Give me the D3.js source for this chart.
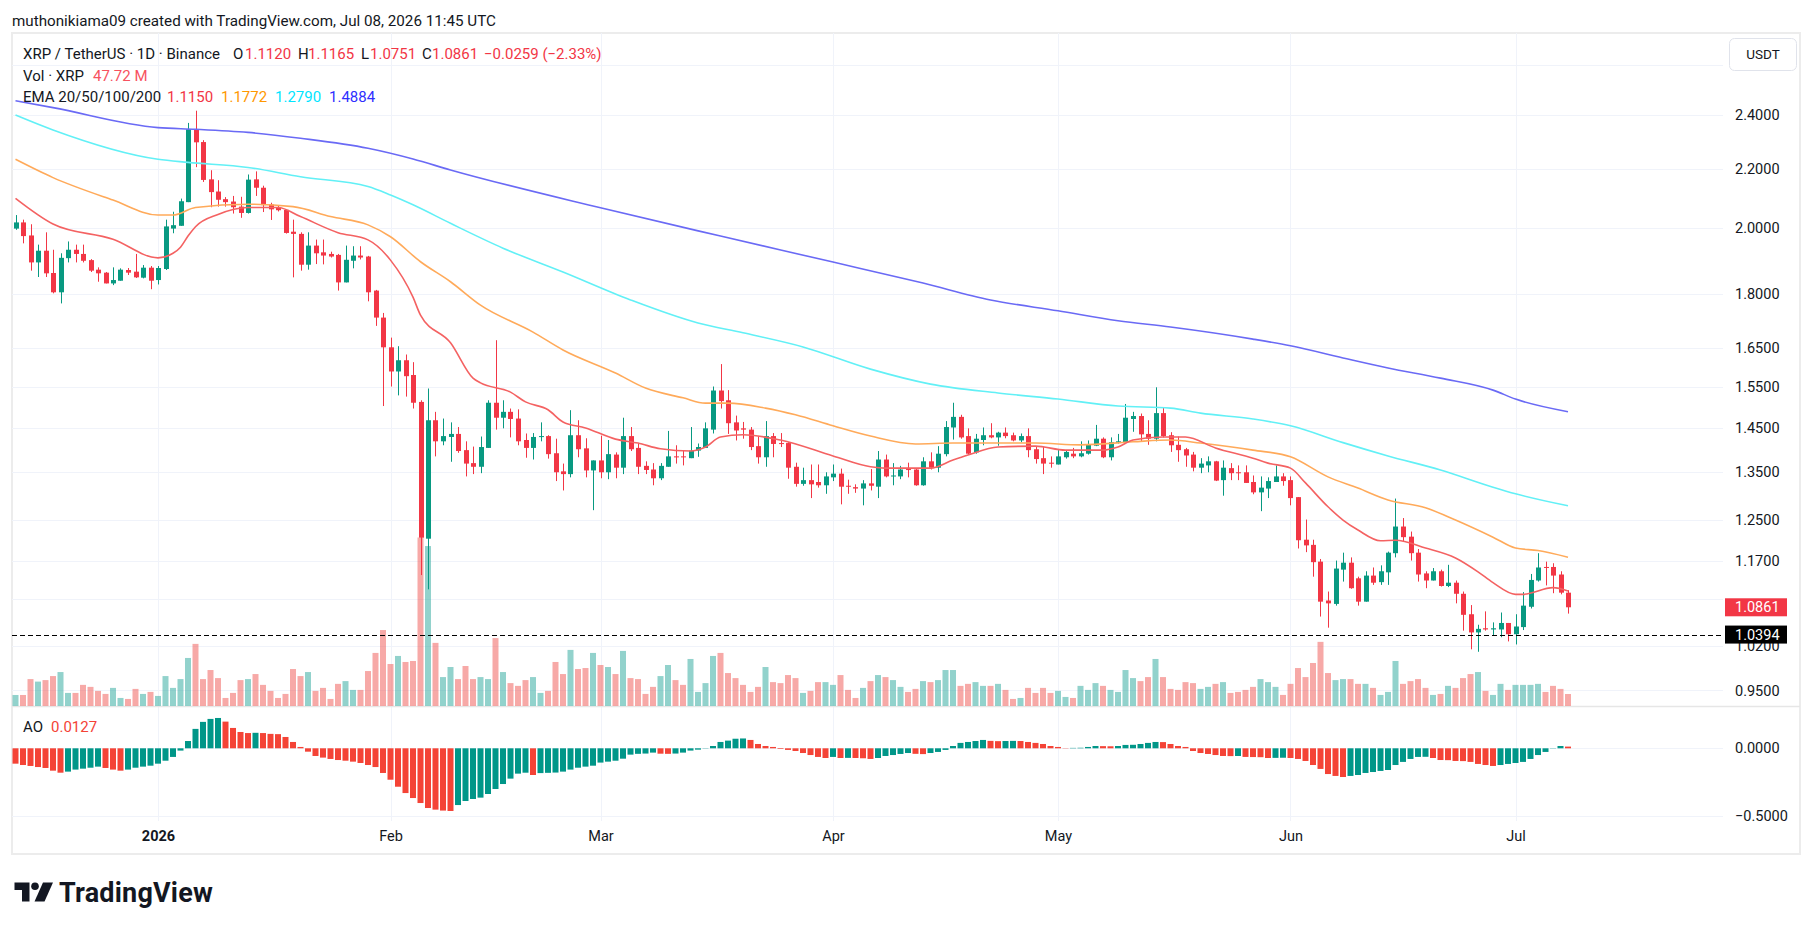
<!DOCTYPE html>
<html>
<head>
<meta charset="utf-8">
<script src="https://cdn.jsdelivr.net/npm/d3@7"></script>
<style>
  html, body { margin: 0; padding: 0; background: #fff; }
  svg { display: block; font-family: Roboto, "Noto Sans", sans-serif; }
</style>
</head>
<body>
<svg id="chart" width="1814" height="930"></svg>
<script>
// ---- data ----
const firstDay = "2025-12-13";

// daily candles [open, high, low, close]
const ohlc = [
  // Dec 13 - Dec 31
  [1.999,2.043,1.995,2.019],[2.019,2.028,1.952,1.975],[1.977,2.013,1.868,1.893],[1.893,1.948,1.849,1.929],[1.929,1.987,1.849,1.860],
  [1.861,1.932,1.801,1.804],[1.804,1.921,1.772,1.907],[1.906,1.958,1.893,1.932],[1.932,1.948,1.893,1.919],[1.919,1.948,1.893,1.898],
  [1.900,1.903,1.864,1.868],[1.871,1.878,1.835,1.860],[1.862,1.864,1.830,1.830],[1.830,1.878,1.825,1.840],[1.838,1.875,1.838,1.871],
  [1.870,1.876,1.855,1.862],[1.865,1.919,1.846,1.848],[1.847,1.885,1.845,1.877],[1.877,1.882,1.813,1.838],
  // Jan
  [1.840,1.882,1.827,1.876],[1.873,2.028,1.870,2.006],[1.999,2.054,1.984,2.010],[2.008,2.098,2.008,2.089],[2.086,2.370,2.086,2.346],
  [2.346,2.417,2.207,2.297],[2.298,2.305,2.155,2.162],[2.164,2.196,2.069,2.120],[2.122,2.161,2.071,2.094],[2.096,2.103,2.071,2.086],
  [2.088,2.107,2.048,2.069],[2.071,2.104,2.034,2.050],[2.050,2.181,2.048,2.163],[2.164,2.192,2.107,2.135],[2.135,2.142,2.053,2.076],
  [2.078,2.084,2.027,2.062],[2.069,2.073,2.055,2.059],[2.060,2.062,1.983,1.985],[1.989,2.028,1.848,1.982],[1.982,1.987,1.868,1.886],
  [1.886,1.987,1.871,1.945],[1.945,1.964,1.888,1.921],[1.924,1.964,1.887,1.914],[1.919,1.926,1.908,1.911],[1.916,1.919,1.809,1.833],
  [1.833,1.945,1.833,1.901],[1.898,1.943,1.875,1.914],[1.914,1.943,1.902,1.908],[1.911,1.913,1.778,1.804],[1.809,1.811,1.709,1.732],
  [1.732,1.745,1.502,1.651],
  // Feb
  [1.651,1.677,1.550,1.588],[1.588,1.654,1.528,1.617],[1.617,1.632,1.525,1.576],[1.579,1.612,1.496,1.510],[1.512,1.516,1.144,1.215],
  [1.213,1.545,1.118,1.468],[1.468,1.488,1.385,1.419],[1.419,1.472,1.410,1.431],[1.429,1.463,1.373,1.436],[1.436,1.452,1.393,1.397],
  [1.399,1.419,1.341,1.369],[1.370,1.407,1.346,1.362],[1.362,1.430,1.348,1.406],[1.404,1.516,1.404,1.510],[1.510,1.670,1.446,1.474],
  [1.474,1.516,1.449,1.488],[1.488,1.496,1.428,1.471],[1.472,1.494,1.410,1.419],[1.422,1.437,1.382,1.404],[1.404,1.438,1.378,1.429],
  [1.429,1.463,1.419,1.431],[1.431,1.433,1.380,1.390],[1.392,1.425,1.331,1.350],[1.352,1.369,1.311,1.346],[1.346,1.492,1.339,1.433],
  [1.433,1.468,1.383,1.401],[1.403,1.426,1.339,1.354],[1.354,1.376,1.270,1.376],
  // Mar
  [1.376,1.432,1.337,1.350],[1.350,1.422,1.335,1.390],[1.389,1.394,1.337,1.360],[1.360,1.474,1.346,1.431],[1.431,1.452,1.397,1.401],
  [1.404,1.414,1.346,1.362],[1.364,1.374,1.346,1.355],[1.356,1.370,1.322,1.337],[1.337,1.370,1.333,1.364],[1.362,1.443,1.362,1.385],
  [1.385,1.410,1.369,1.383],[1.385,1.399,1.365,1.383],[1.381,1.452,1.381,1.398],[1.398,1.414,1.384,1.406],[1.404,1.463,1.404,1.449],
  [1.446,1.550,1.437,1.540],[1.540,1.607,1.496,1.514],[1.516,1.541,1.436,1.461],[1.463,1.479,1.421,1.444],[1.449,1.464,1.425,1.446],
  [1.446,1.452,1.399,1.406],[1.408,1.430,1.369,1.383],[1.383,1.466,1.362,1.431],[1.431,1.438,1.383,1.413],[1.415,1.438,1.406,1.413],
  [1.415,1.417,1.336,1.360],[1.362,1.371,1.319,1.325],[1.325,1.360,1.321,1.333],[1.333,1.367,1.295,1.324],[1.329,1.367,1.317,1.322],
  [1.322,1.350,1.304,1.341],
  // Apr
  [1.339,1.367,1.331,1.347],[1.347,1.358,1.282,1.319],[1.321,1.334,1.304,1.319],[1.318,1.324,1.306,1.315],[1.315,1.333,1.280,1.326],
  [1.326,1.357,1.311,1.321],[1.319,1.397,1.295,1.378],[1.378,1.389,1.339,1.341],[1.341,1.370,1.322,1.343],[1.341,1.364,1.335,1.356],
  [1.357,1.371,1.339,1.356],[1.356,1.357,1.321,1.322],[1.322,1.383,1.321,1.374],[1.374,1.394,1.356,1.360],[1.360,1.408,1.350,1.391],
  [1.390,1.466,1.385,1.452],[1.451,1.510,1.423,1.476],[1.476,1.481,1.425,1.428],[1.431,1.449,1.389,1.391],[1.394,1.436,1.391,1.425],
  [1.422,1.451,1.410,1.433],[1.433,1.461,1.426,1.428],[1.428,1.441,1.409,1.439],[1.439,1.451,1.426,1.431],[1.433,1.439,1.419,1.421],
  [1.421,1.437,1.417,1.431],[1.431,1.449,1.383,1.399],[1.401,1.406,1.369,1.379],[1.381,1.406,1.346,1.369],[1.371,1.385,1.360,1.369],
  // May
  [1.367,1.399,1.367,1.385],[1.383,1.399,1.380,1.395],[1.391,1.404,1.381,1.385],[1.385,1.419,1.383,1.392],[1.391,1.421,1.389,1.411],
  [1.409,1.457,1.408,1.425],[1.425,1.428,1.381,1.383],[1.383,1.428,1.376,1.417],[1.415,1.436,1.414,1.419],[1.417,1.507,1.413,1.474],
  [1.471,1.488,1.441,1.478],[1.478,1.484,1.419,1.435],[1.436,1.468,1.411,1.425],[1.425,1.548,1.419,1.485],[1.485,1.499,1.428,1.431],
  [1.433,1.440,1.395,1.410],[1.411,1.430,1.373,1.399],[1.401,1.404,1.362,1.387],[1.389,1.395,1.352,1.360],[1.360,1.381,1.348,1.369],
  [1.365,1.385,1.350,1.374],[1.374,1.375,1.331,1.332],[1.333,1.376,1.300,1.360],[1.359,1.370,1.333,1.348],[1.350,1.365,1.333,1.348],
  [1.350,1.365,1.327,1.327],[1.329,1.343,1.303,1.307],[1.307,1.341,1.268,1.317],[1.315,1.339,1.295,1.331],[1.329,1.365,1.329,1.341],
  [1.341,1.348,1.321,1.331],
  // Jun
  [1.333,1.341,1.280,1.295],[1.297,1.297,1.194,1.210],[1.211,1.251,1.187,1.200],[1.201,1.211,1.141,1.168],[1.169,1.174,1.070,1.096],
  [1.098,1.114,1.051,1.093],[1.092,1.171,1.089,1.156],[1.154,1.186,1.132,1.167],[1.167,1.177,1.119,1.120],[1.138,1.141,1.089,1.096],
  [1.096,1.151,1.096,1.143],[1.143,1.158,1.126,1.130],[1.131,1.162,1.126,1.151],[1.149,1.188,1.126,1.186],[1.185,1.294,1.177,1.237],
  [1.237,1.254,1.208,1.216],[1.217,1.227,1.171,1.185],[1.186,1.193,1.132,1.145],[1.147,1.151,1.120,1.134],[1.134,1.157,1.134,1.151],
  [1.151,1.154,1.123,1.124],[1.124,1.163,1.122,1.130],[1.130,1.134,1.093,1.110],[1.110,1.114,1.046,1.073],[1.074,1.090,1.015,1.043],
  [1.043,1.056,1.011,1.049],[1.050,1.079,1.046,1.048],[1.048,1.060,1.037,1.050],[1.048,1.077,1.035,1.059],[1.059,1.059,1.028,1.040],
  // Jul
  [1.040,1.074,1.023,1.053],[1.052,1.113,1.047,1.089],[1.087,1.146,1.084,1.135],[1.134,1.185,1.132,1.158],[1.159,1.169,1.125,1.158],
  [1.159,1.166,1.111,1.143],[1.145,1.151,1.109,1.112],[1.112,1.1165,1.0751,1.0861]
];

// volume, millions of XRP
const volumes = [
  43.8,43.8,107,97,103,119,135,52,52,84, 76,60,48,72,32,28,68,48,56,40,
  119,72,107,191,247,107,143,111,32,52, 103,107,127,84,60,32,48,147,119,135,
  60,72,28,88,99,64,64,139,211,302, 167,199,175,179,670,636,251,115,155,107,
  159,107,115,107,270,135,91,80,103,115, 52,60,175,127,223,147,151,211,163,155,
  127,219,111,107,48,76,119,163,103,84, 187,56,91,199,211,131,111,84,56,76,
  155,95,91,123,111,52,60,95,95,84, 123,64,32,72,99,123,115,103,76,56,
  68,99,95,103,143,143,80,88,95,80, 80,88,64,28,32,72,52,72,52,60,
  36,32,80,64,91,80,64,56,143,111, 99,115,187,115,68,64,95,91,68,76,
  88,95,52,56,64,76,107,95,76,44, 88,151,115,171,255,131,103,107,107,88,
  88,72,44,56,179,88,99,107,72,44, 48,80,72,111,127,135,60,44,88,64,
  84,84,84,88,56,80,68,47.72
];

// Awesome Oscillator
const aoValues = [
  -0.114,-0.124,-0.131,-0.139,-0.146,-0.166,-0.181,-0.173,-0.158,-0.151,
  -0.144,-0.136,-0.146,-0.158,-0.166,-0.158,-0.144,-0.136,-0.129,-0.114,
  -0.092,-0.064,-0.017,0.054,0.144,0.196,0.218,0.225,0.198,0.151,
  0.121,0.113,0.115,0.113,0.107,0.105,0.084,0.047,0.010,-0.025,
  -0.057,-0.069,-0.079,-0.087,-0.092,-0.099,-0.109,-0.124,-0.139,-0.183,
  -0.233,-0.285,-0.332,-0.369,-0.406,-0.443,-0.455,-0.462,-0.465,-0.421,
  -0.391,-0.376,-0.366,-0.339,-0.302,-0.265,-0.225,-0.188,-0.181,-0.198,
  -0.184,-0.182,-0.180,-0.173,-0.158,-0.144,-0.136,-0.129,-0.106,-0.099,
  -0.092,-0.077,-0.047,-0.041,-0.039,-0.032,-0.040,-0.041,-0.039,-0.032,
  -0.017,-0.010,-0.002,0.017,0.047,0.057,0.071,0.073,0.062,0.032,
  0.017,0.010,-0.005,-0.012,-0.020,-0.035,-0.050,-0.064,-0.072,-0.064,
  -0.072,-0.071,-0.072,-0.074,-0.079,-0.072,-0.057,-0.050,-0.042,-0.035,
  -0.041,-0.043,-0.035,-0.027,-0.012,0.017,0.040,0.047,0.054,0.062,
  0.055,0.053,0.054,0.055,0.054,0.047,0.040,0.032,0.017,0.010,
  0.002,0.003,0.004,0.010,0.017,0.016,0.015,0.017,0.025,0.026,
  0.032,0.040,0.047,0.046,0.032,0.017,0.010,-0.020,-0.035,-0.042,
  -0.050,-0.057,-0.058,-0.057,-0.064,-0.065,-0.066,-0.072,-0.071,-0.070,
  -0.072,-0.079,-0.094,-0.124,-0.153,-0.191,-0.205,-0.213,-0.205,-0.198,
  -0.183,-0.176,-0.168,-0.161,-0.124,-0.101,-0.079,-0.064,-0.063,-0.072,
  -0.087,-0.088,-0.094,-0.095,-0.101,-0.116,-0.124,-0.131,-0.124,-0.116,
  -0.109,-0.101,-0.079,-0.050,-0.027,0.002,0.017,0.0127
];

// EMA lines, read at sample dates
const ema20 = [
  ["2025-12-13",2.099],["2025-12-18",2.014],["2025-12-26",1.965],["2026-01-01",1.907],["2026-01-03",1.921],
  ["2026-01-04",1.940],["2026-01-05",1.975],["2026-01-06",2.005],["2026-01-09",2.045],["2026-01-13",2.068],
  ["2026-01-17",2.068],["2026-01-20",2.038],["2026-01-25",1.986],["2026-01-29",1.963],["2026-02-01",1.900],
  ["2026-02-04",1.790],["2026-02-05",1.739],["2026-02-09",1.663],["2026-02-12",1.571],["2026-02-13",1.559],
  ["2026-02-17",1.536],["2026-02-19",1.512],["2026-02-22",1.493],["2026-02-24",1.464],["2026-02-27",1.450],
  ["2026-03-03",1.424],["2026-03-06",1.415],["2026-03-09",1.402],["2026-03-13",1.397],["2026-03-15",1.406],
  ["2026-03-17",1.429],["2026-03-20",1.434],["2026-03-25",1.422],["2026-04-01",1.386],["2026-04-06",1.362],
  ["2026-04-08",1.359],["2026-04-14",1.359],["2026-04-17",1.377],["2026-04-19",1.388],["2026-04-23",1.406],
  ["2026-04-28",1.408],["2026-05-02",1.399],["2026-05-07",1.399],["2026-05-09",1.406],["2026-05-11",1.422],
  ["2026-05-15",1.429],["2026-05-18",1.429],["2026-05-22",1.404],["2026-05-27",1.381],["2026-05-29",1.370],
  ["2026-06-01",1.359],["2026-06-03",1.327],["2026-06-06",1.277],["2026-06-08",1.250],["2026-06-10",1.230],
  ["2026-06-13",1.209],["2026-06-15",1.210],["2026-06-19",1.195],["2026-06-23",1.176],["2026-06-26",1.150],
  ["2026-06-28",1.130],["2026-07-01",1.109],["2026-07-02",1.109],["2026-07-06",1.121],["2026-07-08",1.115]
];
const ema50 = [
  ["2025-12-13",2.235],["2025-12-18",2.170],["2025-12-26",2.093],["2026-01-01",2.043],["2026-01-03",2.043],
  ["2026-01-06",2.068],["2026-01-13",2.079],["2026-01-19",2.071],["2026-01-24",2.038],["2026-01-29",2.011],
  ["2026-02-01",1.973],["2026-02-05",1.895],["2026-02-09",1.835],["2026-02-13",1.767],["2026-02-20",1.692],
  ["2026-02-24",1.644],["2026-03-03",1.584],["2026-03-07",1.546],["2026-03-12",1.522],["2026-03-15",1.509],
  ["2026-03-18",1.509],["2026-03-23",1.497],["2026-03-27",1.481],["2026-04-01",1.455],["2026-04-06",1.431],
  ["2026-04-12",1.413],["2026-04-17",1.415],["2026-04-28",1.415],["2026-05-04",1.411],["2026-05-11",1.418],
  ["2026-05-16",1.422],["2026-05-20",1.415],["2026-05-27",1.399],["2026-06-01",1.384],["2026-06-06",1.340],
  ["2026-06-10",1.316],["2026-06-14",1.291],["2026-06-19",1.275],["2026-06-23",1.250],["2026-06-28",1.216],
  ["2026-07-01",1.195],["2026-07-04",1.190],["2026-07-08",1.1772]
];
const ema100 = [
  ["2025-12-13",2.400],["2025-12-18",2.343],["2026-01-01",2.235],["2026-01-05",2.224],["2026-01-13",2.206],
  ["2026-01-20",2.173],["2026-01-29",2.139],["2026-02-01",2.110],["2026-02-04",2.077],["2026-02-09",2.016],
  ["2026-02-16",1.937],["2026-02-24",1.864],["2026-03-05",1.782],["2026-03-14",1.717],["2026-03-20",1.690],
  ["2026-03-28",1.652],["2026-04-06",1.594],["2026-04-14",1.556],["2026-04-23",1.534],["2026-05-01",1.519],
  ["2026-05-09",1.502],["2026-05-16",1.497],["2026-05-20",1.485],["2026-05-27",1.471],["2026-06-01",1.455],
  ["2026-06-08",1.416],["2026-06-14",1.386],["2026-06-21",1.355],["2026-06-28",1.318],["2026-07-01",1.304],
  ["2026-07-08",1.2790]
];
const ema200 = [
  ["2025-12-13",2.456],["2025-12-18",2.429],["2026-01-01",2.352],["2026-01-06",2.346],["2026-01-13",2.334],
  ["2026-01-20",2.312],["2026-01-29",2.275],["2026-02-04",2.236],["2026-02-09",2.197],["2026-03-01",2.067],
  ["2026-03-17",1.975],["2026-04-01",1.894],["2026-04-13",1.831],["2026-04-22",1.782],["2026-05-01",1.751],
  ["2026-05-09",1.723],["2026-05-16",1.706],["2026-05-27",1.673],["2026-06-01",1.655],["2026-06-08",1.623],
  ["2026-06-14",1.597],["2026-06-21",1.571],["2026-06-28",1.541],["2026-07-01",1.519],["2026-07-08",1.4884]
];

const priceTicks = [2.6, 2.4, 2.2, 2.0, 1.8, 1.65, 1.55, 1.45, 1.35, 1.25, 1.17, 1.10, 1.02, 0.95];
const aoTicks = [0, -0.5];
const monthTicks = ["2026-01-01","2026-02-01","2026-03-01","2026-04-01","2026-05-01","2026-06-01","2026-07-01"];
const monthLabels = ["2026","Feb","Mar","Apr","May","Jun","Jul"];
const hLinePrice = 1.0394;

// ---- layout ----
const svg = d3.select("#chart");
const plotL = 12, plotR = 1723, frameR = 1800, frameT = 33;
const mainBot = 706, aoTop = 707, aoBot = 821, frameBot = 854;

const up = "#089981", down = "#f23645";
const text = "#131722", grid = "#f0f3fa";

const parse = d3.utcParse("%Y-%m-%d");
const start = parse(firstDay);
const dates = ohlc.map((d, i) => d3.utcDay.offset(start, i));

const x = d3.scaleUtc().domain([dates[0], dates[dates.length - 1]]).range([15.5, 1568]);
const y = d3.scaleLog().domain([2.4, 0.95]).range([115.1, 690.4]);
const vy = d3.scaleLinear().domain([0, 670]).range([mainBot, 537.5]);
const ay = d3.scaleLinear().domain([0, -0.5]).range([748.3, 815.7]);

const fmt = d3.format(".4f");

// header
svg.append("text").attr("x", 12).attr("y", 25.5)
  .attr("font-size", 15.2).attr("fill", text)
  .text("muthonikiama09 created with TradingView.com, Jul 08, 2026 11:45 UTC");

// frame
svg.append("rect").attr("x", plotL).attr("y", frameT)
  .attr("width", frameR - plotL).attr("height", frameBot - frameT)
  .attr("fill", "none").attr("stroke", "#ececec").attr("stroke-width", 2);

const defs = svg.append("defs");
defs.append("clipPath").attr("id", "clipMain").append("rect")
  .attr("x", plotL).attr("y", frameT).attr("width", plotR - plotL).attr("height", mainBot - frameT);
defs.append("clipPath").attr("id", "clipAo").append("rect")
  .attr("x", plotL).attr("y", aoTop).attr("width", plotR - plotL).attr("height", aoBot - aoTop);
defs.append("clipPath").attr("id", "clipAoAxis").append("rect")
  .attr("x", plotR).attr("y", aoTop).attr("width", frameR - plotR).attr("height", aoBot - aoTop);

// grid lines
const monthDates = monthTicks.map(parse);
const gridG = svg.append("g");
gridG.selectAll(".vg").data(monthDates).join("line")
  .attr("x1", d => Math.round(x(d)) + 0.5).attr("x2", d => Math.round(x(d)) + 0.5)
  .attr("y1", frameT).attr("y2", mainBot).attr("stroke", grid);
gridG.selectAll(".vg2").data(monthDates).join("line")
  .attr("x1", d => Math.round(x(d)) + 0.5).attr("x2", d => Math.round(x(d)) + 0.5)
  .attr("y1", aoTop).attr("y2", aoBot).attr("stroke", grid);
gridG.selectAll(".hg").data(priceTicks).join("line")
  .attr("x1", plotL).attr("x2", plotR)
  .attr("y1", d => Math.round(y(d)) + 0.5).attr("y2", d => Math.round(y(d)) + 0.5)
  .attr("stroke", grid);
gridG.selectAll(".ag").data(aoTicks).join("line")
  .attr("x1", plotL).attr("x2", plotR)
  .attr("y1", d => Math.round(ay(d)) + 0.5).attr("y2", d => Math.round(ay(d)) + 0.5)
  .attr("stroke", grid);

// pane separator
svg.append("line").attr("x1", plotL).attr("x2", frameR)
  .attr("y1", 706.5).attr("y2", 706.5).attr("stroke", "#e6e6e6").attr("stroke-width", 1.5);

// main pane
const main = svg.append("g").attr("clip-path", "url(#clipMain)");

// volume
main.append("g").selectAll("rect").data(volumes).join("rect")
  .attr("x", (d, i) => x(dates[i]) - 3)
  .attr("width", 6)
  .attr("y", d => vy(d))
  .attr("height", d => mainBot - vy(d))
  .attr("fill", (d, i) => ohlc[i][3] >= ohlc[i][0] ? "#26a69a" : "#ef5350")
  .attr("fill-opacity", 0.5);

// candles
const cg = main.append("g");
cg.selectAll("line").data(ohlc).join("line")
  .attr("x1", (d, i) => Math.round(x(dates[i])) + 0.5)
  .attr("x2", (d, i) => Math.round(x(dates[i])) + 0.5)
  .attr("y1", d => y(d[1])).attr("y2", d => y(d[2]))
  .attr("stroke", d => d[3] >= d[0] ? up : down).attr("stroke-width", 1);
cg.selectAll("rect").data(ohlc).join("rect")
  .attr("x", (d, i) => Math.round(x(dates[i])) - 2)
  .attr("width", 5)
  .attr("y", d => Math.min(y(d[0]), y(d[3])))
  .attr("height", d => Math.max(1, Math.abs(y(d[0]) - y(d[3]))))
  .attr("fill", d => d[3] >= d[0] ? up : down);

// EMA lines
const line = d3.line().x(d => x(parse(d[0]))).y(d => y(d[1])).curve(d3.curveMonotoneX);
const emaSeries = [
  { data: ema200, color: "#6a6af5" },
  { data: ema100, color: "#62f0f6" },
  { data: ema50, color: "#ffaa5a" },
  { data: ema20, color: "#f46262" }
];
main.append("g").selectAll("path").data(emaSeries).join("path")
  .attr("d", d => line(d.data))
  .attr("fill", "none").attr("stroke", d => d.color).attr("stroke-width", 1.6);

// horizontal dashed line
main.append("line").attr("x1", plotL).attr("x2", plotR)
  .attr("y1", Math.round(y(hLinePrice)) + 0.5).attr("y2", Math.round(y(hLinePrice)) + 0.5)
  .attr("stroke", "#000").attr("stroke-dasharray", "5,3");

// AO pane
const aoG = svg.append("g").attr("clip-path", "url(#clipAo)");
aoG.selectAll("rect").data(aoValues).join("rect")
  .attr("x", (d, i) => x(dates[i]) - 3)
  .attr("width", 6)
  .attr("y", d => Math.min(ay(d), ay(0)))
  .attr("height", d => Math.abs(ay(d) - ay(0)))
  .attr("fill", (d, i) => i > 0 && d >= aoValues[i - 1] ? "#009688" : "#f44336");

// price axis (labels under the USDT box or the last-price tag are hidden, as in the source)
const lastClose = ohlc[ohlc.length - 1][3];
const yAxis = d3.axisRight(y)
  .tickValues(priceTicks.filter(t => y(t) > 80 && Math.abs(y(t) - y(lastClose)) > 10))
  .tickFormat(fmt).tickSize(0).tickPadding(12);
const ya = svg.append("g").attr("transform", `translate(${plotR},0)`).call(yAxis);
ya.select(".domain").remove();
ya.selectAll("text").attr("font-size", 14.5).attr("fill", text).attr("font-family", "Roboto, sans-serif");

// USDT box
svg.append("rect").attr("x", 1729.5).attr("y", 38.5).attr("width", 67).attr("height", 32).attr("rx", 5)
  .attr("fill", "#fff").attr("stroke", "#e0e3eb");
svg.append("text").attr("x", 1763).attr("y", 59).attr("text-anchor", "middle")
  .attr("font-size", 13.5).attr("fill", text).text("USDT");

// price labels
function priceLabel(price, bg) {
  const g = svg.append("g");
  g.append("rect").attr("x", 1725).attr("y", y(price) - 9).attr("width", 62).attr("height", 18).attr("fill", bg);
  g.append("text").attr("x", 1735).attr("y", y(price)).attr("dy", "0.35em")
    .attr("font-size", 14.5).attr("fill", "#fff").text(fmt(price));
}
priceLabel(lastClose, down);
priceLabel(hLinePrice, "#000");

// AO axis
const aoAxis = d3.axisRight(ay).tickValues(aoTicks).tickFormat(fmt).tickSize(0).tickPadding(12);
const aa = svg.append("g").attr("clip-path", "url(#clipAoAxis)")
  .append("g").attr("transform", `translate(${plotR},0)`).call(aoAxis);
aa.select(".domain").remove();
aa.selectAll("text").attr("font-size", 14.5).attr("fill", text).attr("font-family", "Roboto, sans-serif");

// time axis
const xAxis = d3.axisBottom(x).tickValues(monthDates)
  .tickFormat((d, i) => monthLabels[i]).tickSize(0).tickPadding(10);
const xa = svg.append("g").attr("transform", `translate(0,${aoBot})`).call(xAxis);
xa.select(".domain").remove();
xa.selectAll("text").attr("font-size", 14.5).attr("fill", text).attr("font-family", "Roboto, sans-serif")
  .attr("font-weight", (d, i) => i === 0 ? 700 : 400);

// legends
const last = ohlc[ohlc.length - 1];
const prevClose = ohlc[ohlc.length - 2][3];
const chg = last[3] - prevClose;
const leg = svg.append("g").attr("font-size", 15);
function put(xp, yp, str, col) {
  leg.append("text").attr("x", xp).attr("y", yp).attr("fill", col).text(str);
}
put(23, 59, "XRP / TetherUS · 1D · Binance", text);
put(233, 59, "O", text); put(245, 59, fmt(last[0]), down);
put(298, 59, "H", text); put(308, 59, fmt(last[1]), down);
put(361, 59, "L", text); put(370, 59, fmt(last[2]), down);
put(422, 59, "C", text); put(432, 59, fmt(last[3]), down);
put(484, 59, `${fmt(chg)} (${d3.format(".2f")(chg / prevClose * 100)}%)`, down);

put(23, 81, "Vol · XRP", text);
put(93, 81, `${volumes[volumes.length - 1].toFixed(2)} M`, "#f7525f");

put(23, 101.5, "EMA 20/50/100/200", text);
const emaLegend = [[ema20, "#f23645"], [ema50, "#ff9800"], [ema100, "#00e5ff"], [ema200, "#2f2fff"]];
emaLegend.forEach((e, k) => put(167 + k * 54, 101.5, fmt(e[0][e[0].length - 1][1]), e[1]));

put(23, 732, "AO", text);
put(51, 732, fmt(aoValues[aoValues.length - 1]), "#f44336");

// TradingView logo
const logo = svg.append("g").attr("transform", "translate(14.5,882.5)").attr("fill", "#131722");
logo.append("path").attr("d", "M0,0H15V19H7.5V7.5H0Z");
logo.append("circle").attr("cx", 20.5).attr("cy", 3.8).attr("r", 3.8);
logo.append("path").attr("d", "M28.5,0H38.5L30,19H20Z");
svg.append("text").attr("x", 59).attr("y", 901.5).attr("font-size", 27).attr("font-weight", 700)
  .attr("fill", "#131722").attr("letter-spacing", 0.2).text("TradingView");
</script>
</body>
</html>
